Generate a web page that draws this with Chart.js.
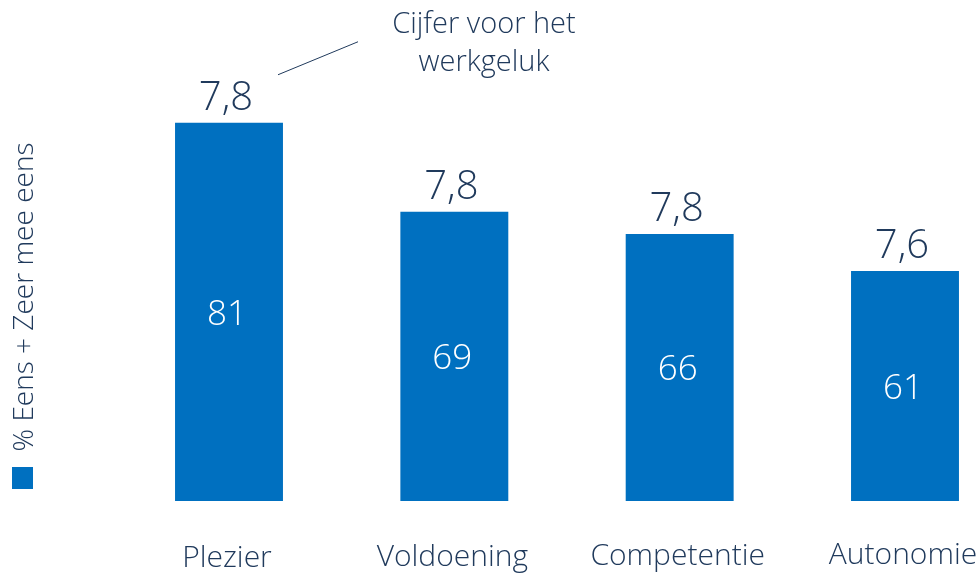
<!DOCTYPE html>
<html>
<head>
<meta charset="utf-8">
<script src="https://cdn.jsdelivr.net/npm/chart.js@4"></script>
<style>
  html, body { margin: 0; padding: 0; background: #fff; }
  #wrap { width: 979px; height: 576px; }
</style>
</head>
<body>
<div id="wrap"><canvas id="chart" width="979" height="576"></canvas></div>
<script>
  // data
  const categories = ['Plezier', 'Voldoening', 'Competentie', 'Autonomie'];
  const agreePct = [81, 69, 66, 61];
  const happinessScore = [7.8, 7.8, 7.8, 7.6];
  const seriesName = '% Eens + Zeer mee eens';
  const noteLines = ['Cijfer voor het', 'werkgeluk'];

  const BLUE = '#0070C0';
  const NAVY = '#203A5C';
  const FONT = '"Open Sans", "Segoe UI", sans-serif';

  // labels on and above the bars, category names, callout and series title
  const labelsPlugin = {
    id: 'labels',
    afterDatasetsDraw(chart) {
      const ctx = chart.ctx;
      const bars = chart.getDatasetMeta(0).data;
      const area = chart.chartArea;
      ctx.save();
      ctx.textAlign = 'center';
      ctx.textBaseline = 'middle';
      bars.forEach((bar, i) => {
        // value inside bar (bars are cut at the bottom of the plot)
        ctx.fillStyle = '#fff';
        ctx.font = '300 35px ' + FONT;
        ctx.fillText(String(agreePct[i]), bar.x - 2, (bar.y + area.bottom) / 2 + 3);
        // score above bar
        ctx.fillStyle = NAVY;
        ctx.font = '300 40px ' + FONT;
        ctx.fillText(happinessScore[i].toFixed(1).replace('.', ','), bar.x - 3, bar.y - 24);
        // category name
        ctx.font = '300 30px ' + FONT;
        ctx.fillText(categories[i], bar.x - 2, area.bottom + 57 - i);
      });

      // callout for the first score
      const b0 = bars[0];
      ctx.strokeStyle = NAVY;
      ctx.lineWidth = 1;
      ctx.beginPath();
      ctx.moveTo(b0.x + 49, b0.y - 48);
      ctx.lineTo(b0.x + 129, b0.y - 81);
      ctx.stroke();
      ctx.fillStyle = NAVY;
      ctx.font = '300 29px ' + FONT;
      ctx.fillText(noteLines[0], b0.x + 255, b0.y - 98);
      ctx.fillText(noteLines[1], b0.x + 255, b0.y - 60);

      // rotated series title with legend square
      ctx.save();
      ctx.translate(25, 297);
      ctx.rotate(-Math.PI / 2);
      ctx.font = '300 28px ' + FONT;
      ctx.fillText(seriesName, 0, 0);
      ctx.restore();
      ctx.fillStyle = BLUE;
      ctx.fillRect(12, 467, 21, 22);
      ctx.restore();
    }
  };

  new Chart(document.getElementById('chart'), {
    type: 'bar',
    data: {
      labels: categories,
      datasets: [{
        label: seriesName,
        data: agreePct,
        backgroundColor: BLUE,
        borderWidth: 0,
        categoryPercentage: 0.479,
        barPercentage: 1,
        clip: { left: false, right: false, top: 0, bottom: 0 }
      }]
    },
    options: {
      responsive: false,
      animation: false,
      layout: { padding: { left: 229, right: 74, top: 56, bottom: 75 } },
      plugins: {
        legend: { display: false },
        tooltip: { enabled: false }
      },
      scales: {
        x: { display: false, offset: false },
        y: { display: false, min: 30, max: 90 }
      }
    },
    plugins: [labelsPlugin]
  });
</script>
</body>
</html>
